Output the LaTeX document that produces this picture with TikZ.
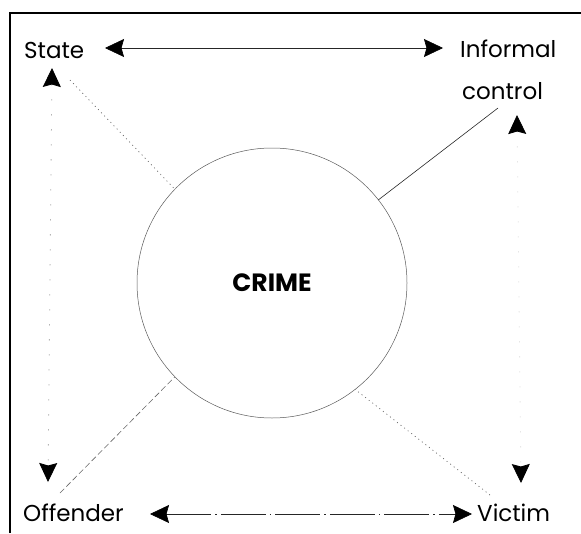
\documentclass[tikz,border=0pt]{standalone}
\usepackage{fontspec}
\setmainfont{Poppins}
\usetikzlibrary{arrows.meta}
\begin{document}
\begin{tikzpicture}[x=1pt,y=-1pt,
  >={Stealth[length=19pt,width=18pt,inset=2.5pt,color=black]},
  lbl/.style={font=\fontsize{23}{28}\selectfont, inner sep=0pt, anchor=base west},
  crimecircle/.style={circle, draw=black!65, line width=0.5pt, minimum size=270pt, inner sep=0pt, outer sep=0pt,
     font=\fontsize{25}{28}\selectfont\bfseries},
  hlink/.style={line width=0.6pt, black!85},
  hlinkdd/.style={line width=0.6pt, black!85, dash pattern=on 45pt off 4pt on 1.5pt off 4pt},
  vlink/.style={line width=0.8pt, black!45, dash pattern=on 1pt off 14pt},
  solidlink/.style={line width=0.6pt, black!85},
  dotlink/.style={line width=0.7pt, black!60, dash pattern=on 1pt off 3.5pt},
  dashlink/.style={line width=0.6pt, black!60, dash pattern=on 6pt off 3pt}
]
\useasboundingbox (0,0) rectangle (581,533);
% frame (partial box)
\draw[line width=2.5pt] (10,533) -- (10,13) -- (581,13);

% labels
\node[lbl] (st) at (24,58) {State};
\node[lbl] (inf) at (460,57) {Informal};
\node[lbl] (ctl) at (462,99) {control};
\node[lbl] (off) at (23,521) {Offender};
\node[lbl] (vic) at (477,521) {Victim};

% central circle
\node[crimecircle] (cr) at (272,283) {CRIME};

% arrow end points
\coordinate (stR) at (105,48);
\coordinate (infL) at (443,48);
\coordinate (offR) at (150,514);
\coordinate (vicL) at (472,514);
\coordinate (stB) at (52,68);
\coordinate (offT) at (48,482);
\coordinate (ctlB) at (517,115);
\coordinate (vicT) at (521,483);

% diagonal free ends
\coordinate (stD) at (70,80);
\coordinate (ctlD) at (498,108);
\coordinate (offD) at (60,493);
\coordinate (vicD) at (490,495);

% horizontal double arrows
\draw[hlink,<->] (stR) -- (infL);
\draw[hlinkdd,<->] (offR) -- (vicL);

% vertical double arrows
\draw[vlink,<->] (stB) -- (offT);
\draw[vlink,<->,black!15] (ctlB) -- (vicT);

% diagonals to the circle
\draw[dotlink] (stD) -- (cr.136);
\draw[solidlink] (ctlD) -- (cr.38);
\draw[dashlink] (offD) -- (cr.224);
\draw[dotlink] (vicD) -- (cr.308);
\end{tikzpicture}
\end{document}
